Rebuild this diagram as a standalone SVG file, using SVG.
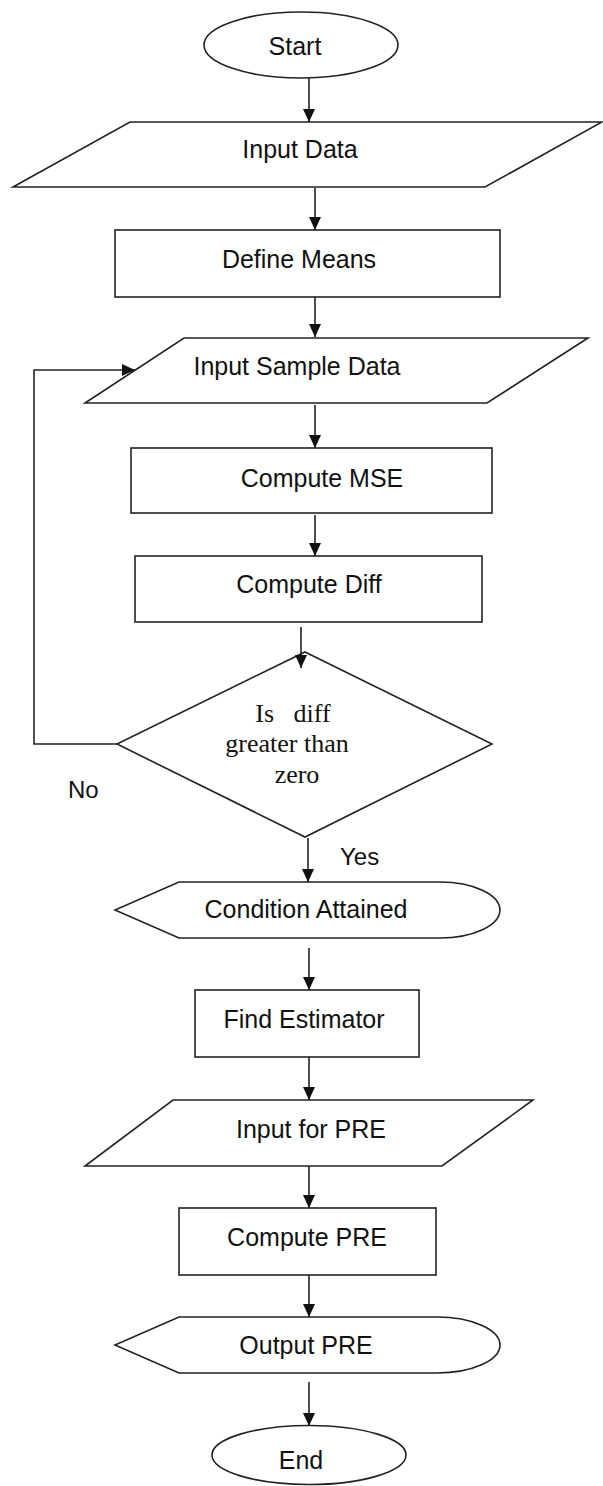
<svg xmlns="http://www.w3.org/2000/svg" width="603" height="1486" viewBox="0 0 603 1486">
<defs>
<marker id="ah" markerUnits="userSpaceOnUse" markerWidth="14" markerHeight="12" refX="13" refY="6" orient="auto">
<path d="M0,0 L13,6 L0,12 z" fill="#111"/>
</marker>
<style>
.s{fill:#fff;stroke:#222;stroke-width:1.6}
.t{font-family:"Liberation Sans",Arial,sans-serif;font-size:25px;fill:#111;text-anchor:middle}
.d{font-family:"Liberation Serif","Times New Roman",serif;font-size:26px;fill:#111;text-anchor:middle}
.l{font-family:"Liberation Sans",Arial,sans-serif;font-size:24px;fill:#111}
.c{fill:none;stroke:#222;stroke-width:1.6}
</style>
</defs>
<rect width="603" height="1486" fill="#fff"/>
<g id="start">
<ellipse class="s" cx="301" cy="45" rx="97" ry="33"/>
<text class="t" x="295" y="55">Start</text>
</g>
<g id="input-data">
<polygon class="s" points="130,122 602,122 485,187 13,187"/>
<text class="t" x="300" y="158">Input Data</text>
</g>
<g id="define-means">
<rect class="s" x="115" y="230" width="385" height="67"/>
<text class="t" x="299" y="268">Define Means</text>
</g>
<g id="input-sample-data">
<polygon class="s" points="184,338 588,338 487,403 85,403"/>
<text class="t" x="297" y="375">Input Sample Data</text>
</g>
<g id="compute-mse">
<rect class="s" x="131" y="448" width="361" height="65"/>
<text class="t" x="322" y="487">Compute MSE</text>
</g>
<g id="compute-diff">
<rect class="s" x="135" y="556" width="347" height="66"/>
<text class="t" x="309" y="593">Compute Diff</text>
</g>
<g id="decision">
<polygon class="s" points="305,652 492,744 305,837 117,744"/>
<text class="d" x="293" y="722" xml:space="preserve">Is   diff</text>
<text class="d" x="287" y="752">greater than</text>
<text class="d" x="297" y="783">zero</text>
</g>
<g id="condition-attained">
<path class="s" d="M179,882 L440,882 A60,28 0 0 1 440,938 L179,938 L115,910 Z"/>
<text class="t" x="306" y="918">Condition Attained</text>
</g>
<g id="find-estimator">
<rect class="s" x="195" y="990" width="224" height="67"/>
<text class="t" x="304" y="1028">Find Estimator</text>
</g>
<g id="input-for-pre">
<polygon class="s" points="173,1100 533,1100 442,1166 85,1166"/>
<text class="t" x="311" y="1138">Input for PRE</text>
</g>
<g id="compute-pre">
<rect class="s" x="179" y="1208" width="257" height="67"/>
<text class="t" x="307" y="1246">Compute PRE</text>
</g>
<g id="output-pre">
<path class="s" d="M179,1317 L437,1317 A63,28 0 0 1 437,1373 L179,1373 L115,1345 Z"/>
<text class="t" x="306" y="1354">Output PRE</text>
</g>
<g id="end">
<ellipse class="s" cx="309" cy="1455" rx="97" ry="29.5"/>
<text class="t" x="301" y="1469">End</text>
</g>
<g id="connectors">
<line class="c" x1="309" y1="78" x2="309" y2="122" marker-end="url(#ah)"/>
<line class="c" x1="315" y1="188" x2="315" y2="230" marker-end="url(#ah)"/>
<line class="c" x1="315" y1="297" x2="315" y2="337" marker-end="url(#ah)"/>
<line class="c" x1="315" y1="405" x2="315" y2="448" marker-end="url(#ah)"/>
<line class="c" x1="315" y1="515" x2="315" y2="556" marker-end="url(#ah)"/>
<line class="c" x1="301" y1="627" x2="301" y2="668" marker-end="url(#ah)"/>
<polyline class="c" points="117,744 34,744 34,370 135,370" marker-end="url(#ah)"/>
<line class="c" x1="308" y1="838" x2="308" y2="882" marker-end="url(#ah)"/>
<line class="c" x1="309" y1="948" x2="309" y2="990" marker-end="url(#ah)"/>
<line class="c" x1="309" y1="1057" x2="309" y2="1100" marker-end="url(#ah)"/>
<line class="c" x1="309" y1="1166" x2="309" y2="1208" marker-end="url(#ah)"/>
<line class="c" x1="309" y1="1275" x2="309" y2="1317" marker-end="url(#ah)"/>
<line class="c" x1="309" y1="1382" x2="309" y2="1426" marker-end="url(#ah)"/>
<text class="l" x="68" y="798">No</text>
<text class="l" x="340" y="865">Yes</text>
</g>
</svg>
